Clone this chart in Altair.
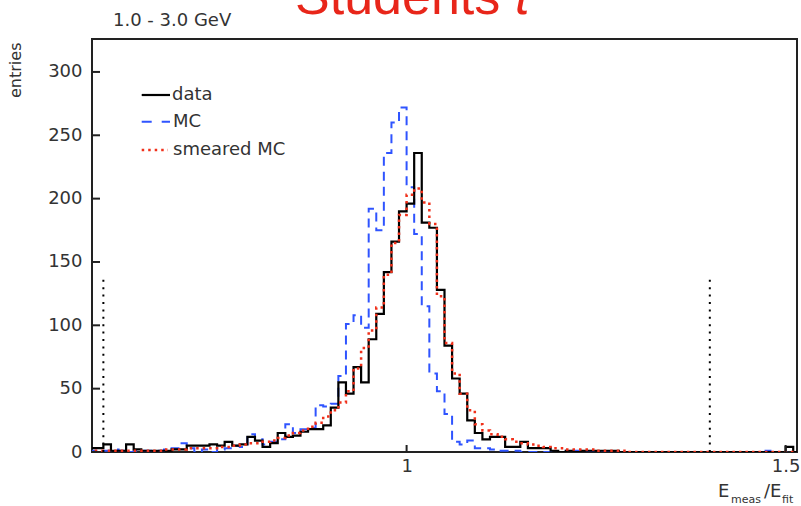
import altair as alt
import pandas as pd

# histogram bins: width 0.01, left edges 0.58 ... 1.51
bin_edges = [round(0.58 + 0.01 * i, 2) for i in range(95)]

data_counts = (
    [3, 3, 6, 1, 1, 6, 2, 1, 1, 1]            # 0.58-0.67
    + [1, 2, 2, 5, 5, 5, 6, 5, 8, 5]          # 0.68-0.77
    + [6, 12, 9, 4, 7, 15, 12, 13, 16, 18]    # 0.78-0.87
    + [18, 21, 35, 55, 46, 67, 55, 89, 109, 142]   # 0.88-0.97
    + [166, 190, 196, 236, 181, 177, 128, 84, 58, 46]  # 0.98-1.07
    + [25, 15, 10, 12, 12, 4, 4, 8, 3, 3]     # 1.08-1.17
    + [3, 1, 0, 1, 0, 1, 1, 1, 1, 1]          # 1.18-1.27
    + [0, 0, 0, 0, 0, 0, 0, 0, 0, 0]          # 1.28-1.37
    + [0, 0, 0, 0, 0, 0, 0, 0, 0, 0]          # 1.38-1.47
    + [0, 0, 4, 0]                            # 1.48-1.51
)

mc_counts = (
    [1, 1, 1, 2, 1, 0, 1, 1, 1, 1]
    + [2, 3, 7, 3, 0, 2, 0, 2, 3, 5]
    + [4, 14, 10, 6, 8, 10, 22, 15, 18, 19]
    + [37, 36, 38, 60, 101, 108, 98, 192, 175, 236]
    + [260, 272, 209, 172, 115, 62, 48, 30, 8, 6]
    + [9, 3, 3, 2, 1, 1, 1, 0, 0, 0]
    + [0, 0, 0, 1, 1, 0, 0, 0, 0, 0]
    + [0, 0, 0, 0, 0, 0, 0, 0, 0, 0]
    + [0, 0, 0, 0, 0, 0, 0, 0, 0, 1]
    + [0, 0, 0, 0]
)

smeared_counts = (
    [1, 1, 1, 1, 1, 1, 1, 1, 1, 1]
    + [2, 2, 2, 3, 3, 3, 3, 4, 4, 5]
    + [6, 7, 7, 8, 9, 11, 13, 15, 17, 20]
    + [23, 28, 33, 39, 48, 66, 82, 96, 114, 140]
    + [165, 187, 203, 208, 197, 180, 123, 86, 62, 46]
    + [33, 22, 17, 14, 12, 10, 8, 7, 6, 5]
    + [4, 3, 3, 2, 2, 2, 2, 1, 1, 1]
    + [1, 0, 0, 0, 0, 0, 0, 0, 0, 0]
    + [0, 0, 0, 0, 0, 0, 0, 0, 0, 0]
    + [0, 0, 0, 0]
)

series_names = ["MC", "data", "smeared MC"]
fit_range = [0.6, 1.4]
fit_marker_height = 137
y_tick_values = [0, 50, 100, 150, 200, 250, 300]
x_tick_values = [1, 1.5]

rows = []
for name, counts in zip(series_names, [mc_counts, data_counts, smeared_counts]):
    vals = counts + [counts[-1]]
    for e, c in zip(bin_edges, vals):
        rows.append({"edge": e, "entries": c, "series": name})
df = pd.DataFrame(rows)

W, H = 705, 413
FONT = "DejaVu Sans"
TXT = "#333333"

x_scale = alt.Scale(domain=[0.585, 1.515], nice=False, zero=False)
y_scale = alt.Scale(domain=[0, 326], nice=False, zero=True)

x_enc = alt.X(
    "edge:Q", scale=x_scale,
    axis=alt.Axis(values=x_tick_values, format="~g", ticks=False, domain=False, grid=False,
                  labelFontSize=18, labelFont=FONT, labelColor=TXT, labelPadding=5,
                  labelFlush=False, title=None),
)
y_enc = alt.Y(
    "entries:Q", scale=y_scale,
    axis=alt.Axis(values=y_tick_values, format="d", ticks=False, domain=False, grid=False,
                  labelFontSize=18, labelFont=FONT, labelColor=TXT, labelPadding=10,
                  title="entries", titleAngle=270, titleX=-77, titleY=3,
                  titleAlign="right", titleBaseline="middle", titleFontSize=16,
                  titleFont=FONT, titleFontWeight="normal", titleColor=TXT),
)

base = alt.Chart(df)

mc_line = base.transform_filter(alt.datum.series == "MC").mark_line(
    interpolate="step-after", color="#2f54ff", strokeWidth=2, strokeDash=[9, 6], clip=True
).encode(x=x_enc, y=y_enc)

data_line = base.transform_filter(alt.datum.series == "data").mark_line(
    interpolate="step-after", color="#000000", strokeWidth=2.2, clip=True
).encode(x=x_enc, y=y_enc)

smeared_line = base.transform_filter(alt.datum.series == "smeared MC").mark_line(
    interpolate="step-after", color="#f0301a", strokeWidth=2.5, strokeDash=[2.5, 4], clip=True
).encode(x=x_enc, y=y_enc)

fit_df = pd.DataFrame({"pos": fit_range, "lo": [0, 0], "hi": [fit_marker_height] * 2})
fit_lines = alt.Chart(fit_df).mark_rule(color="#000000", strokeWidth=2, strokeDash=[2, 5.4]).encode(
    x=alt.X("pos:Q", scale=x_scale), y=alt.Y("lo:Q", scale=y_scale), y2="hi:Q"
)

ytick_df = pd.DataFrame({"v": y_tick_values})
y_ticks = alt.Chart(ytick_df).mark_rule(color="#222222", strokeWidth=2).encode(
    y=alt.Y("v:Q", scale=y_scale), x=alt.value(0), x2=alt.value(8)
)
xtick_df = pd.DataFrame({"v": x_tick_values})
x_ticks = alt.Chart(xtick_df).mark_rule(color="#222222", strokeWidth=2).encode(
    x=alt.X("v:Q", scale=x_scale), y=alt.value(H), y2=alt.value(H - 7)
)

# legend (manual, ROOT style)
leg_y = [56, 82.7, 111]
leg_black = alt.Chart(pd.DataFrame({"a": [0]})).mark_rule(color="#000000", strokeWidth=2.2).encode(
    x=alt.value(49.7), x2=alt.value(78), y=alt.value(leg_y[0]))
leg_blue = alt.Chart(pd.DataFrame({"a": [0]})).mark_rule(color="#2f54ff", strokeWidth=2, strokeDash=[10, 10]).encode(
    x=alt.value(49.7), x2=alt.value(78), y=alt.value(leg_y[1]))
leg_red = alt.Chart(pd.DataFrame({"a": [0]})).mark_rule(color="#f0301a", strokeWidth=2.5, strokeDash=[2.5, 4]).encode(
    x=alt.value(49.7), x2=alt.value(76), y=alt.value(leg_y[2]))

def label(text, x, y, size=18, font=FONT, color=TXT, align="left", baseline="middle", style="normal"):
    return alt.Chart(pd.DataFrame({"t": [text]})).mark_text(
        align=align, baseline=baseline, fontSize=size, font=font, color=color, fontStyle=style
    ).encode(text="t:N", x=alt.value(x), y=alt.value(y))

leg_texts = [
    label("data", 80, leg_y[0]),
    label("MC", 81, leg_y[1]),
    label("smeared MC", 81, leg_y[2]),
]

title_small = label("1.0 - 3.0 GeV", 21, -13, baseline="alphabetic")
title_red = label("Students", 203, -25, size=52, font="Liberation Sans", color="#e8261a", baseline="alphabetic")
title_red_t = label("t", 423, -25, size=52, font="Liberation Sans", color="#e8261a", baseline="alphabetic", style="italic")

xt = [
    label("E", 626, 458, size=18, baseline="alphabetic"),
    label("meas", 639, 464, size=11, baseline="alphabetic"),
    label("/E", 672, 458, size=18, baseline="alphabetic"),
    label("fit", 690, 464, size=11, baseline="alphabetic"),
]

chart = alt.layer(
    mc_line, data_line, smeared_line, fit_lines, y_ticks, x_ticks,
    leg_black, leg_blue, leg_red, *leg_texts,
    title_small, title_red, title_red_t, *xt,
).properties(
    width=W, height=H,
    padding={"left": 92, "top": 39, "right": 4, "bottom": 54},
    autosize=alt.AutoSizeParams(type="none"),
    background="#ffffff",
).configure_view(stroke="#222222", strokeWidth=2)

chart.save("out.html", embed_options={"renderer": "svg", "actions": False})
